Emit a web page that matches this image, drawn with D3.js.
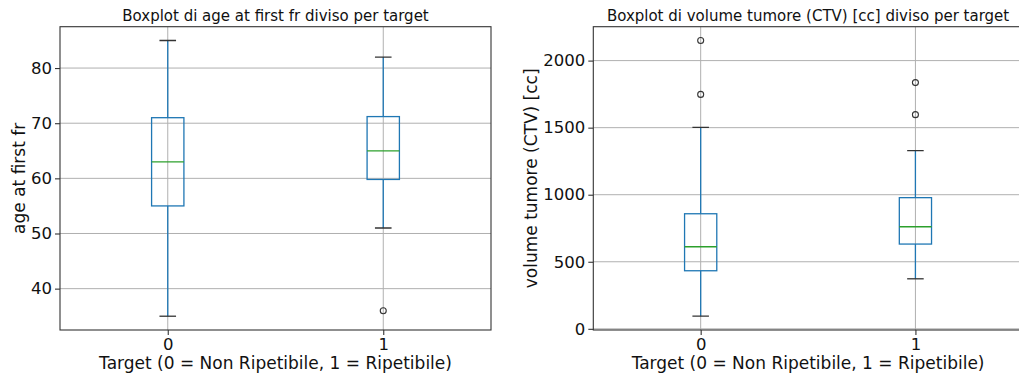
<!DOCTYPE html>
<html>
<head>
<meta charset="utf-8">
<script src="https://cdn.jsdelivr.net/npm/d3@7"></script>
<style>
  html, body { margin: 0; padding: 0; background: #fff; overflow: hidden; }
  svg { display: block; font-family: "DejaVu Sans", sans-serif; }
</style>
</head>
<body>
<svg id="chart" width="1019" height="378"></svg>
<script>
// Groups on the x axis
const categories = ["0", "1"];

// Age at first fraction: box statistics per target group
const ageWhiskerLow = [35, 51];
const ageQ1 = [55, 59.8];
const ageMedian = [63, 65];
const ageQ3 = [71, 71.2];
const ageWhiskerHigh = [85, 82];
const ageOutliers = [[], [36]];
const ageTicks = [40, 50, 60, 70, 80];

// Tumour volume (CTV) in cc: box statistics per target group
const volWhiskerLow = [94, 373];
const volQ1 = [433, 632];
const volMedian = [612, 761];
const volQ3 = [858, 978];
const volWhiskerHigh = [1502, 1328];
const volOutliers = [[2150, 1748], [1836, 1597]];
const volTicks = [0, 500, 1000, 1500, 2000];

const panels = [
  {
    title: "Boxplot di age at first fr diviso per target",
    ylabel: "age at first fr",
    left: 60, right: 491, top: 26.7, bottom: 330,
    ylabelX: 25,
    lo: ageWhiskerLow, q1: ageQ1, med: ageMedian, q3: ageQ3, hi: ageWhiskerHigh,
    out: ageOutliers, ticks: ageTicks
  },
  {
    title: "Boxplot di volume tumore (CTV) [cc] diviso per target",
    ylabel: "volume tumore (CTV) [cc]",
    left: 593.3, right: 1022.8, top: 26.7, bottom: 330,
    ylabelX: 537,
    lo: volWhiskerLow, q1: volQ1, med: volMedian, q3: volQ3, hi: volWhiskerHigh,
    out: volOutliers, ticks: volTicks
  }
];

const svg = d3.select("#chart");
const BLUE = "#1f77b4", GREEN = "#2ca02c", DARK = "#333333", GRID = "#b0b0b0";

panels.forEach((p, pi) => {
  const g = svg.append("g");

  // y extent from whiskers and outliers, padded 5% on each side
  const vals = [...p.lo, ...p.hi, ...p.out.flat()];
  const vmin = d3.min(vals), vmax = d3.max(vals);
  const pad = (vmax - vmin) * 0.05;

  const x = d3.scaleLinear().domain([0.5, 2.5]).range([p.left, p.right]);
  const y = d3.scaleLinear().domain([vmin - pad, vmax + pad]).range([p.bottom, p.top]);
  const pos = categories.map((c, i) => i + 1);

  const clipId = "clip" + pi;
  g.append("clipPath").attr("id", clipId)
    .append("rect").attr("x", p.left).attr("y", p.top)
    .attr("width", p.right - p.left).attr("height", p.bottom - p.top);

  // grid
  const grid = g.append("g").attr("clip-path", `url(#${clipId})`);
  grid.selectAll("line.gy").data(p.ticks).join("line")
    .attr("x1", p.left).attr("x2", p.right)
    .attr("y1", d => y(d)).attr("y2", d => y(d))
    .attr("stroke", GRID).attr("stroke-width", 1);
  grid.selectAll("line.gx").data(pos).join("line")
    .attr("x1", d => x(d)).attr("x2", d => x(d))
    .attr("y1", p.top).attr("y2", p.bottom)
    .attr("stroke", GRID).attr("stroke-width", 1);

  // boxes
  const boxHalf = 0.075, capHalf = 0.0385;
  const marks = g.append("g").attr("clip-path", `url(#${clipId})`);
  pos.forEach((xp, i) => {
    const cx = x(xp);
    const bw = x(xp + boxHalf) - cx;
    const cw = x(xp + capHalf) - cx;
    // whiskers
    marks.append("line").attr("x1", cx).attr("x2", cx)
      .attr("y1", y(p.lo[i])).attr("y2", y(p.q1[i]))
      .attr("stroke", BLUE).attr("stroke-width", 1.3);
    marks.append("line").attr("x1", cx).attr("x2", cx)
      .attr("y1", y(p.q3[i])).attr("y2", y(p.hi[i]))
      .attr("stroke", BLUE).attr("stroke-width", 1.3);
    // box
    marks.append("rect").attr("x", cx - bw).attr("width", 2 * bw)
      .attr("y", y(p.q3[i])).attr("height", y(p.q1[i]) - y(p.q3[i]))
      .attr("fill", "none").attr("stroke", BLUE).attr("stroke-width", 1.3);
    // median
    marks.append("line").attr("x1", cx - bw).attr("x2", cx + bw)
      .attr("y1", y(p.med[i])).attr("y2", y(p.med[i]))
      .attr("stroke", GREEN).attr("stroke-width", 1.3);
    // caps
    [p.lo[i], p.hi[i]].forEach(v => {
      marks.append("line").attr("x1", cx - cw).attr("x2", cx + cw)
        .attr("y1", y(v)).attr("y2", y(v))
        .attr("stroke", DARK).attr("stroke-width", 1.3);
    });
    // outliers
    marks.selectAll(null).data(p.out[i]).join("circle")
      .attr("cx", cx).attr("cy", d => y(d)).attr("r", 3)
      .attr("fill", "none").attr("stroke", DARK).attr("stroke-width", 1.1);
  });

  // frame
  g.append("rect").attr("x", p.left).attr("y", p.top)
    .attr("width", p.right - p.left).attr("height", p.bottom - p.top)
    .attr("fill", "none").attr("stroke", DARK).attr("stroke-width", 1.1);

  // axes
  const yAxis = d3.axisLeft(y).tickValues(p.ticks).tickFormat(d3.format("d")).tickSize(5).tickPadding(3);
  const ya = g.append("g").attr("transform", `translate(${p.left},0)`).call(yAxis);
  const xAxis = d3.axisBottom(x).tickValues(pos).tickFormat((d, i) => categories[i]).tickSize(5).tickPadding(3);
  const xa = g.append("g").attr("transform", `translate(0,${p.bottom})`).call(xAxis);
  [ya, xa].forEach(a => {
    a.select(".domain").remove();
    a.selectAll(".tick line").attr("stroke", DARK).attr("stroke-width", 1.1);
    a.selectAll(".tick text").attr("font-size", 16.5).attr("fill", "#111")
      .attr("font-family", "DejaVu Sans");
  });

  // titles and labels
  g.append("text").attr("x", (p.left + p.right) / 2).attr("y", 20.5)
    .attr("text-anchor", "middle").attr("font-size", 15).attr("fill", "#111")
    .text(p.title);
  g.append("text").attr("x", (p.left + p.right) / 2).attr("y", 369)
    .attr("text-anchor", "middle").attr("font-size", 17).attr("fill", "#111")
    .text("Target (0 = Non Ripetibile, 1 = Ripetibile)");
  g.append("text")
    .attr("transform", `translate(${p.ylabelX},${(p.top + p.bottom) / 2}) rotate(-90)`)
    .attr("text-anchor", "middle").attr("font-size", 17).attr("fill", "#111")
    .text(p.ylabel);
});
</script>
</body>
</html>
